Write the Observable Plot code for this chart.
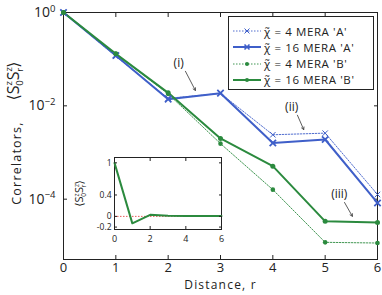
<!DOCTYPE html>
<html>
<head>
<meta charset="utf-8">
<script src="https://cdn.jsdelivr.net/npm/d3@7"></script>
<script src="https://cdn.jsdelivr.net/npm/@observablehq/plot@0.6"></script>
<style>
  body { margin: 0; background: #fff; }
  #wrap { position: relative; width: 382px; height: 295px; overflow: hidden; background: #fff; }
  #wrap > svg, #wrap > div { position: absolute; }
  .leg-row { position: absolute; left: 0; height: 14px; display: flex; align-items: center; white-space: nowrap; }
</style>
</head>
<body>
<div id="wrap"></div>
<script>
// ---------------- data ----------------
const distances = [0, 1, 2, 3, 4, 5, 6];
const chi4A  = [1, 0.115, 0.0145, 0.0185, 0.0024, 0.0026, 1.26e-4];
const chi16A = [1, 0.12, 0.0139, 0.0187, 0.0016, 0.0019, 8.3e-5];
const chi4B  = [1, 0.13, 0.018, 0.00155, 1.6e-4, 1.19e-5, 1.15e-5];
const chi16B = [1, 0.13, 0.019, 0.002, 5.1e-4, 3.35e-5, 3.15e-5];
const seriesNames = ["χ̃ = 4 MERA 'A'", "χ̃ = 16 MERA 'A'", "χ̃ = 4 MERA 'B'", "χ̃ = 16 MERA 'B'"];
const xTicks = [0, 1, 2, 3, 4, 5, 6];
const yTicks = [1, 1e-2, 1e-4];
const yDomain = [5.1e-6, 1];

// inset
const insetValues = [1, -0.13, 0.03, 0.013, 0.008, 0.005, 0.005];
const insetXTicks = [0, 2, 4, 6];
const insetYTicks = [1, 0.4, 0, -0.2];
const insetYDomain = [-0.245, 1.1];

// annotations (data units)
const annoLabels = ["(i)", "(ii)", "(iii)"];
const annoX = [2.2, 4.36, 5.27];
const annoY = [0.081, 0.0093, 1.26e-4];
const arrowX1 = [2.33, 4.47, 5.37];
const arrowY1 = [0.055, 0.0063, 8.5e-5];
const arrowX2 = [2.52, 4.59, 5.52];
const arrowY2 = [0.0214, 0.0031, 4.3e-5];

// ---------------- styles ----------------
const BLUE = "#3f5fc9";
const GREEN = "#2b8a3e";
const styles = [
  {color: BLUE, width: 0.9, dash: "1.5,1.5", symbol: "times", r: 2.6},
  {color: BLUE, width: 2, dash: null, symbol: "times", r: 3},
  {color: GREEN, width: 0.9, dash: "1.5,1.5", symbol: "circle", r: 2.3},
  {color: GREEN, width: 2, dash: null, symbol: "circle", r: 2.5}
];
const FONT = "'Open Sans', 'DejaVu Sans', sans-serif";

const seriesVals = [chi4A, chi16A, chi4B, chi16B];
const rows = seriesVals.map((vals, i) => distances.map((r, j) => ({r, v: vals[j], s: i})));
const annos = annoLabels.map((t, i) => ({t, x: annoX[i], y: annoY[i], x1: arrowX1[i], y1: arrowY1[i], x2: arrowX2[i], y2: arrowY2[i]}));

const seriesMarks = [];
rows.forEach((data, i) => {
  const st = styles[i];
  seriesMarks.push(Plot.line(data, {x: "r", y: "v", stroke: st.color, strokeWidth: st.width, strokeDasharray: st.dash}));
});
rows.forEach((data, i) => {
  const st = styles[i];
  seriesMarks.push(Plot.dot(data, {
    x: "r", y: "v", symbol: st.symbol, r: st.r,
    stroke: st.color, fill: st.symbol === "circle" ? st.color : "none",
    strokeWidth: st.symbol === "circle" ? 0 : (i === 1 ? 1.8 : 1)
  }));
});

const main = Plot.plot({
  width: 382, height: 295,
  marginLeft: 63, marginRight: 5, marginTop: 12, marginBottom: 36,
  style: {fontFamily: FONT, fontSize: "14px", background: "transparent", color: "#222"},
  x: {domain: [0, 6]},
  y: {type: "log", domain: yDomain},
  marks: [
    Plot.frame({stroke: "#222", strokeWidth: 1}),
    Plot.axisX({ticks: xTicks, tickSize: -4, tickPadding: 7, label: null, tickFormat: d3.format("d"), fontSize: 13}),
    Plot.axisX({anchor: "top", ticks: xTicks, tickSize: -4, label: null, tickFormat: () => ""}),
    Plot.axisY({ticks: yTicks, tickSize: -4, tickPadding: 12, label: null, tickFormat: d => "10^" + Math.round(Math.log10(d)), fontSize: 14}),
    Plot.axisY({anchor: "right", ticks: yTicks, tickSize: -4, label: null, tickFormat: () => ""}),
    ...seriesMarks,
    Plot.text(annos, {x: "x", y: "y", text: "t", fontSize: 12, fill: "#222"}),
    Plot.arrow(annos, {x1: "x1", y1: "y1", x2: "x2", y2: "y2", stroke: "#333", strokeWidth: 0.8, headLength: 5}),
    Plot.text(["Distance, r"], {frameAnchor: "bottom", textAnchor: "middle", dy: 29.5, fontSize: 12, fill: "#222", className: "xlab"}),
    Plot.text(["Correlators,"], {frameAnchor: "left", textAnchor: "middle", dx: -47, dy: 27, rotate: -90, fontSize: 12.5, fill: "#222", className: "ylab"}),
    Plot.text(["BRAKET"], {frameAnchor: "left", textAnchor: "middle", dx: -50, dy: -55, rotate: -90, fontSize: 16, fill: "#222", className: "braket-main"})
  ]
});
main.style.left = "0px"; main.style.top = "0px";

// inset
const inset = Plot.plot({
  width: 155, height: 92,
  marginLeft: 44, marginRight: 4, marginTop: 5, marginBottom: 15,
  style: {fontFamily: FONT, fontSize: "9px", background: "#fff", color: "#222", overflow: "visible"},
  x: {domain: [0, 6]},
  y: {domain: insetYDomain},
  marks: [
    Plot.frame({stroke: "#222", strokeWidth: 1}),
    Plot.ruleY([0], {stroke: "#e03030", strokeWidth: 0.8, strokeDasharray: "1.5,1.5"}),
    Plot.line(distances, {x: d => d, y: (d, i) => insetValues[i], stroke: GREEN, strokeWidth: 2}),
    Plot.axisX({ticks: insetXTicks, tickSize: -3, tickPadding: 9, label: null, tickFormat: d3.format("d"), fontSize: 9}),
    Plot.axisX({anchor: "top", ticks: insetXTicks, tickSize: -3, label: null, tickFormat: () => ""}),
    Plot.axisY({ticks: insetYTicks, tickSize: -3, tickPadding: 6, label: null, tickFormat: d => d === 0 ? "0" : String(d), fontSize: 8.5}),
    Plot.axisY({anchor: "right", ticks: insetYTicks, tickSize: -3, label: null, tickFormat: () => ""}),
    Plot.text(["BRAKET"], {frameAnchor: "left", textAnchor: "middle", dx: -35, rotate: -90, fontSize: 11, fill: "#222", className: "braket-inset"})
  ]
});
inset.style.left = "70px"; inset.style.top = "152px"; inset.style.overflow = "visible";

const wrap = document.getElementById("wrap");
wrap.appendChild(main);
wrap.appendChild(inset);

// legend
const legend = document.createElement("div");
legend.style.cssText = `left:228px;top:16px;width:146px;height:74px;border:1px solid #222;background:#fff;box-sizing:border-box;font-family:${FONT};font-size:11.5px;color:#222;`;
seriesNames.forEach((name, i) => {
  const st = styles[i];
  const row = document.createElement("div");
  row.className = "leg-row";
  row.style.top = (7 + i * 16.3) + "px";
  const ns = "http://www.w3.org/2000/svg";
  const svg = document.createElementNS(ns, "svg");
  svg.setAttribute("width", 30); svg.setAttribute("height", 14);
  svg.style.marginLeft = "3px"; svg.style.marginRight = "2px";
  const ln = document.createElementNS(ns, "line");
  ln.setAttribute("x1", 1); ln.setAttribute("x2", 29); ln.setAttribute("y1", 7); ln.setAttribute("y2", 7);
  ln.setAttribute("stroke", st.color); ln.setAttribute("stroke-width", st.width);
  if (st.dash) ln.setAttribute("stroke-dasharray", st.dash);
  svg.appendChild(ln);
  if (st.symbol === "circle") {
    const c = document.createElementNS(ns, "circle");
    c.setAttribute("cx", 15); c.setAttribute("cy", 7); c.setAttribute("r", 2); c.setAttribute("fill", st.color);
    svg.appendChild(c);
  } else {
    const p = document.createElementNS(ns, "path");
    p.setAttribute("d", "M12.5,4.5L17.5,9.5M12.5,9.5L17.5,4.5");
    p.setAttribute("stroke", st.color); p.setAttribute("stroke-width", i === 1 ? 1.6 : 1);
    svg.appendChild(p);
  }
  row.appendChild(svg);
  const span = document.createElement("span");
  span.textContent = name;
  span.style.letterSpacing = "0.6px";
  row.appendChild(span);
  legend.appendChild(row);
});
wrap.appendChild(legend);

// ---------- text post-processing (superscripts, bra-ket) ----------
d3.select(main).selectAll("text").each(function() {
  const t = this.textContent;
  if (/^10\^/.test(t)) {
    const exp = t.slice(3).replace("-", "\u2212");
    const sel = d3.select(this);
    sel.text("10");
    sel.append("tspan").attr("dy", "-0.55em").attr("font-size", "9.5px").text(exp);
  }
});
d3.select(main).selectAll(".xlab text, .ylab text").style("letter-spacing", "1.2px");

function braket(sel, fs) {
  sel.each(function() {
    const s = d3.select(this);
    s.text(null);
    const sm = fs * 0.6;
    const up = -fs * 0.4, down = fs * 0.7, back = up + down;
    s.append("tspan").text("\u27E8S");
    s.append("tspan").attr("font-size", sm + "px").attr("dy", up).text("z");
    s.append("tspan").attr("font-size", sm + "px").attr("dx", -sm * 0.5).attr("dy", down).text("0");
    s.append("tspan").attr("dy", -back).text("S");
    s.append("tspan").attr("font-size", sm + "px").attr("dy", up).text("z");
    s.append("tspan").attr("font-size", sm + "px").attr("dx", -sm * 0.5).attr("dy", down).text("r");
    s.append("tspan").attr("dy", -back).text("\u27E9");
  });
}
braket(d3.select(main).selectAll(".braket-main text"), 16);
braket(d3.select(inset).selectAll(".braket-inset text"), 11);
</script>
</body>
</html>
